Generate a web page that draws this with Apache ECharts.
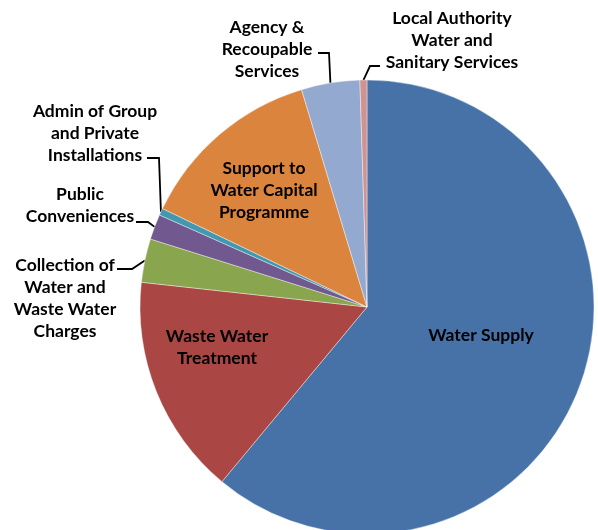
<!DOCTYPE html>
<html><head><meta charset="utf-8">
<script src="https://cdn.jsdelivr.net/npm/echarts@6/dist/echarts.min.js"></script>
<style>html,body{margin:0;padding:0;background:#fff}#c{width:598px;height:530px}</style>
</head><body><div id="c"></div>
<script>
const categories = ["Water Supply","Waste Water\nTreatment","Collection of\nWater and\nWaste Water\nCharges","Public\nConveniences","Admin of Group\nand Private\nInstallations","Support to\nWater Capital\nProgramme","Agency &\nRecoupable\nServices","Local Authority\nWater and\nSanitary Services"];
const values = [61.0, 15.7, 3.1, 1.8, 0.5, 13.2, 4.15, 0.5];
const colors = ["#4672A8","#AA4643","#89A54E","#71588F","#4198AF","#DB843D","#93A9CF","#D19392"];
const insideIdx = [0,1,5];
// label block centres
const labelPos = [
  {x:481,y:335},{x:217,y:347},{x:65,y:298},{x:80,y:205},
  {x:95,y:133},{x:264,y:190},{x:267,y:49},{x:452,y:40}
];
// leader line elbow + end points (null = no leader)
const leaderPts = [
  null, null,
  [[132,269],[117,269]],
  [[148,222],[136,222]],
  [[159,158],[147,158]],
  null,
  [[329,53],[318,53]],
  [[370,66],[380,66]]
];
const chart = echarts.init(document.getElementById('c'));
chart.setOption({
  animation:false,
  series:[{
    type:'pie',
    center:[367,307],
    radius:227,
    startAngle:90,
    clockwise:true,
    avoidLabelOverlap:false,
    itemStyle:{borderColor:'#fff',borderWidth:0.4},
    label:{color:'#000',fontFamily:'Lato',fontWeight:'bold',fontSize:17.5,lineHeight:22,formatter:'{b}',align:'center'},
    labelLine:{show:true,lineStyle:{color:'#000',width:1.8},length:8,length2:10},
    labelLayout:function(p){
      const i = p.dataIndex;
      const lp = labelPos[i];
      const out = {x:lp.x,y:lp.y,align:'center',verticalAlign:'middle'};
      if (leaderPts[i] && p.labelLinePoints) {
        out.labelLinePoints = [p.labelLinePoints[0], leaderPts[i][0], leaderPts[i][1]];
      }
      return out;
    },
    data: categories.map((c,i)=>({
      name:c,value:values[i],
      itemStyle:{color:colors[i]},
      label:{position: insideIdx.includes(i)?'inside':'outside'},
      labelLine:{show: !insideIdx.includes(i)}
    }))
  }]
});
</script></body></html>
